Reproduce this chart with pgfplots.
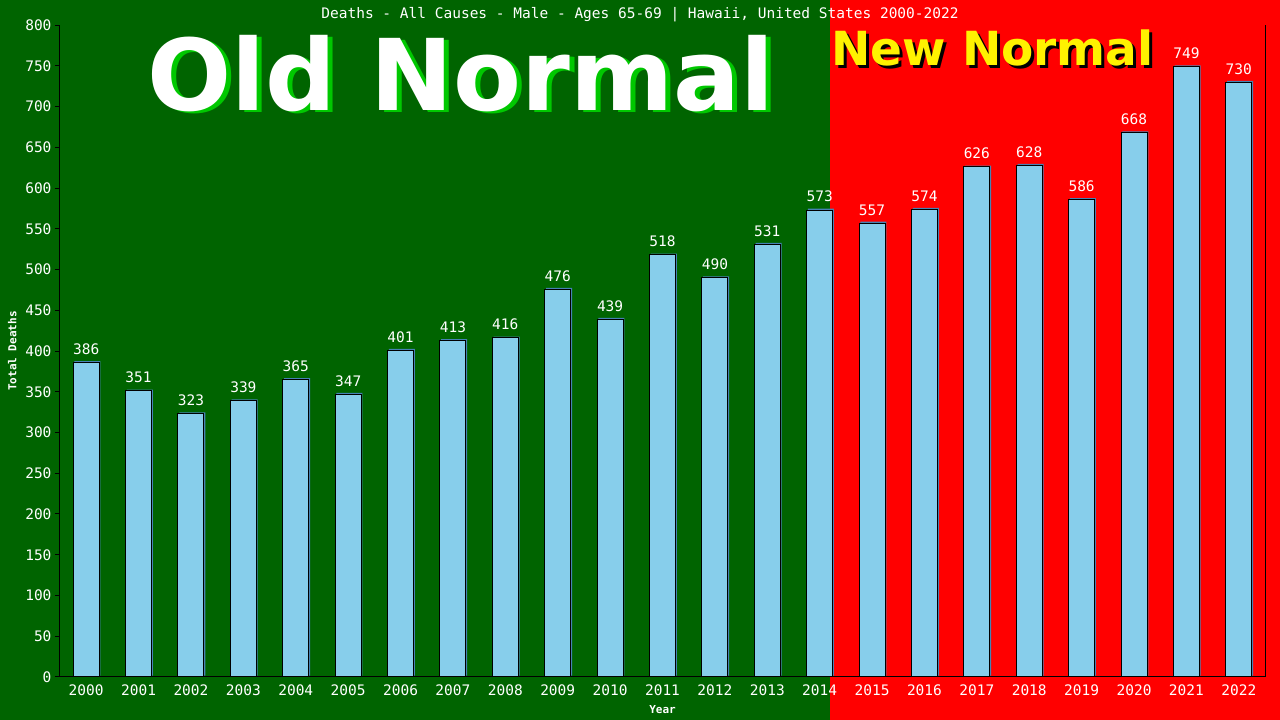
\documentclass[border=0pt]{standalone}
\usepackage{pgfplots}
\pgfplotsset{compat=1.18}
\usepackage{pgfplotstable}
\usetikzlibrary{backgrounds}
\usepackage{fontspec}
\setmainfont{DejaVu Sans}
\newfontfamily\monofont{DejaVu Sans Mono}
\definecolor{bggreen}{RGB}{0,100,0}
\definecolor{bgred}{RGB}{255,0,0}
\definecolor{barblue}{RGB}{135,206,235}
\definecolor{barshadow}{RGB}{70,130,180}
\definecolor{litegreen}{RGB}{0,200,0}
\pgfplotstableread{
x v
0 386
1 351
2 323
3 339
4 365
5 347
6 401
7 413
8 416
9 476
10 439
11 518
12 490
13 531
14 573
15 557
16 574
17 626
18 628
19 586
20 668
21 749
22 730
}\deaths
\begin{document}
\begin{tikzpicture}[x=1pt,y=1pt]
\begin{axis}[
  scale only axis, width=1205pt, height=652pt,
  xmin=-0.5, xmax=22.5, ymin=0, ymax=800,
  axis x line*=bottom, axis y line*=left,
  axis line style={black, line width=1pt},
  xtick={0,...,22},
  xticklabels={2000,2001,2002,2003,2004,2005,2006,2007,2008,2009,2010,2011,2012,2013,2014,2015,2016,2017,2018,2019,2020,2021,2022},
  ytick distance=50,
  tick align=outside,
  x tick style={draw=none},
  y tick style={black, line width=1pt},
  major tick length=5pt,
  /pgf/number format/assume math mode=true,
  tick label style={text=white, font=\monofont\fontsize{14.5}{14.5}\selectfont},
  xticklabel style={yshift=1pt},
  xlabel={Year}, ylabel={Total Deaths},
  label style={text=white, font=\monofont\bfseries\fontsize{11}{11}\selectfont},
  xlabel style={yshift=-3pt},
  ylabel style={yshift=2pt},
  clip=false,
  ybar, bar width=26pt,
]
\coordinate (O) at (rel axis cs:0,0);
\addplot[fill=barshadow, draw=none, bar shift=0pt, xshift=1.3pt, yshift=1.3pt] table[x=x,y=v]{\deaths};
\addplot[fill=barblue, draw=black, line width=1pt, bar shift=0pt,
  nodes near coords,
  every node near coord/.append style={text=white, font=\monofont\fontsize{14.5}{14.5}\selectfont, yshift=4pt}] table[x=x,y=v]{\deaths};
\draw[black, line width=1pt] (rel axis cs:1,0) -- (rel axis cs:1,1);
\end{axis}
\begin{scope}[shift={(O)}, xshift=-60pt, yshift=-43pt]
\begin{scope}[on background layer]
\fill[bggreen] (0,0) rectangle (830,720);
\fill[bgred] (830,0) rectangle (1280,720);
\node[anchor=base, inner sep=0pt, text=litegreen, font=\fontsize{99}{99}\selectfont\bfseries] at (466,607.5) {Old Normal};
\node[anchor=base, inner sep=0pt, text=white, font=\fontsize{99}{99}\selectfont\bfseries] at (461,609) {Old Normal};
\node[anchor=base west, inner sep=0pt, text=black, font=\fontsize{47}{47}\selectfont\bfseries] at (834,651) {New Normal};
\node[anchor=base west, inner sep=0pt, text=yellow, font=\fontsize{47}{47}\selectfont\bfseries] at (831,654) {New Normal};
\node[anchor=base, inner sep=0pt, text=white, font=\monofont\fontsize{14.5}{14.5}\selectfont] at (640,701) {Deaths - All Causes - Male - Ages 65-69 | Hawaii, United States 2000-2022};
\end{scope}
\pgfresetboundingbox
\useasboundingbox (0,0) rectangle (1280,720);
\end{scope}
\end{tikzpicture}
\end{document}
